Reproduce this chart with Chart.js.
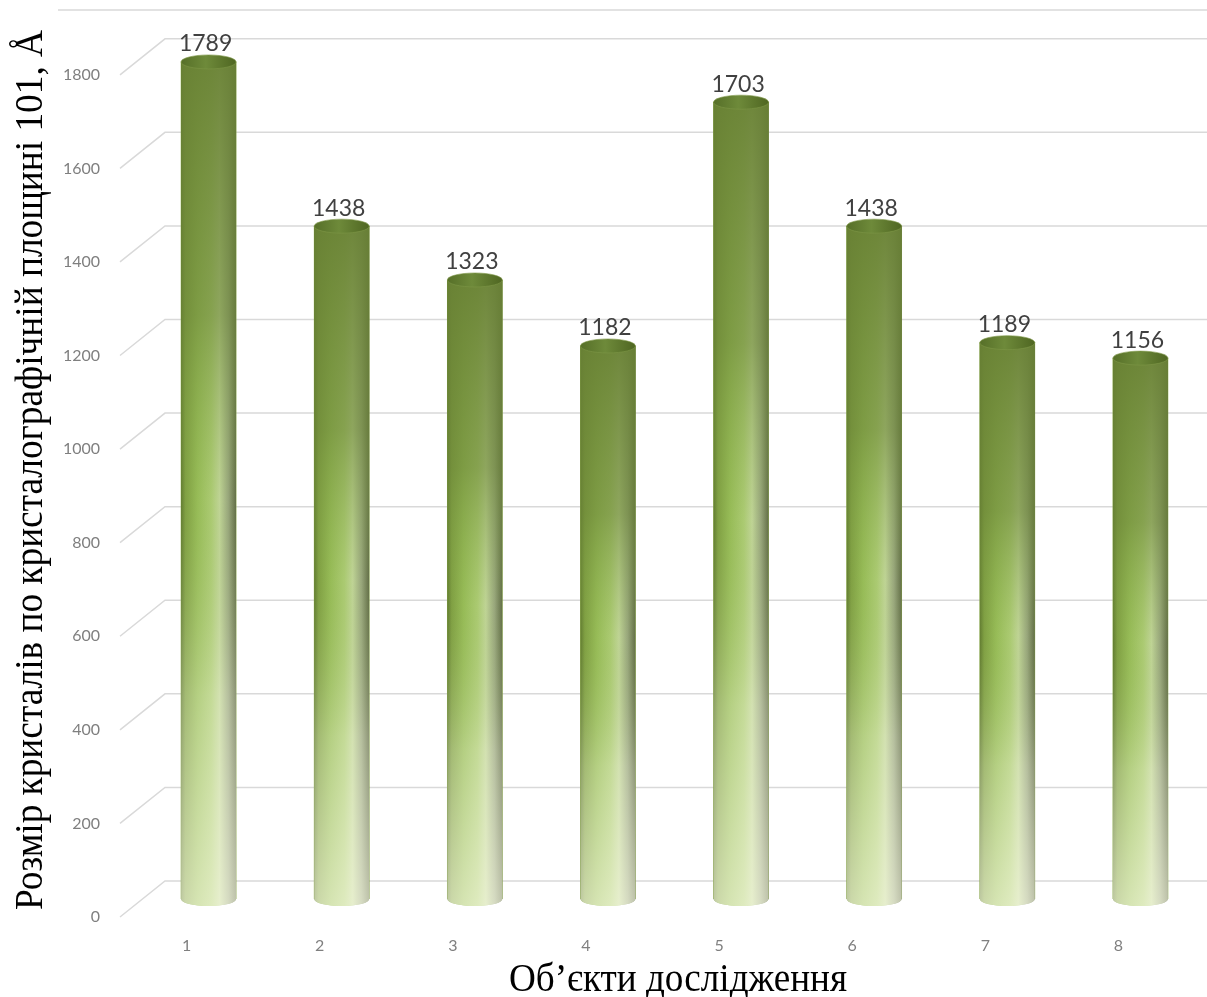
<!DOCTYPE html>
<html>
<head>
<meta charset="utf-8">
<script src="https://cdn.jsdelivr.net/npm/chart.js@4.4.0/dist/chart.umd.min.js"></script>
<style>
  html, body { margin: 0; padding: 0; background: #fff; }
  #wrap { width: 1207px; height: 997px; position: relative; }
</style>
</head>
<body>
<div id="wrap"><canvas id="crystalChart"></canvas></div>
<script>
// data
const categories = ['1', '2', '3', '4', '5', '6', '7', '8']
const crystalSize = [1789, 1438, 1323, 1182, 1703, 1438, 1189, 1156]
const yTicks = [0, 200, 400, 600, 800, 1000, 1200, 1400, 1600, 1800]
const yTitle = 'Розмір кристалів по кристалографічній площині 101, Å'
const xTitle = 'Об’єкти дослідження'

// 3D-ish gridlines: short diagonal "floor" segment + back-wall line
const gridPlugin = {
  id: 'grid3d',
  beforeDatasetsDraw(chart) {
    const { ctx, scales: { y } } = chart
    ctx.save()
    ctx.strokeStyle = '#d9d9d9'
    ctx.lineWidth = 1.5
    ctx.beginPath()
    ctx.moveTo(58, 10)
    ctx.lineTo(chart.width, 10)
    ctx.stroke()
    yTicks.forEach(v => {
      const p = y.getPixelForValue(v)
      ctx.beginPath()
      ctx.moveTo(120, p + 18)
      ctx.lineTo(165, p - 18)
      ctx.lineTo(chart.width, p - 18)
      ctx.stroke()
    })
    ctx.restore()
  }
}

// repaint each bar as a shaded cylinder
const cylinderPlugin = {
  id: 'cylinders',
  afterDatasetsDraw(chart) {
    const { ctx } = chart
    const meta = chart.getDatasetMeta(0)
    ctx.save()
    meta.data.forEach((bar, i) => {
      const rx = bar.width / 2, ry = 7
      const left = bar.x - rx, right = bar.x + rx
      const top = bar.y, base = bar.base

      const body = new Path2D()
      body.moveTo(left, top)
      body.lineTo(left, base)
      body.ellipse(bar.x, base, rx, ry, 0, Math.PI, 0, true)
      body.lineTo(right, top)
      body.closePath()

      const hg = ctx.createLinearGradient(left, 0, right, 0)
      hg.addColorStop(0, '#607a30')
      hg.addColorStop(0.08, '#80a043')
      hg.addColorStop(0.3, '#98bd58')
      hg.addColorStop(0.55, '#adcc74')
      hg.addColorStop(0.7, '#c2d699')
      hg.addColorStop(0.86, '#99a67e')
      hg.addColorStop(1, '#616c47')
      ctx.fillStyle = hg
      ctx.fill(body)

      const vg = ctx.createLinearGradient(0, top, 0, base + ry)
      vg.addColorStop(0, 'rgba(104,128,52,0.92)')
      vg.addColorStop(0.3, 'rgba(108,134,55,0.6)')
      vg.addColorStop(0.52, 'rgba(130,165,70,0.05)')
      vg.addColorStop(0.75, 'rgba(255,255,240,0.28)')
      vg.addColorStop(1, 'rgba(255,255,240,0.6)')
      ctx.fillStyle = vg
      ctx.fill(body)

      const tg = ctx.createLinearGradient(left, 0, right, 0)
      tg.addColorStop(0, '#566f28')
      tg.addColorStop(0.45, '#6e8a3a')
      tg.addColorStop(1, '#4f6622')
      ctx.beginPath()
      ctx.ellipse(bar.x, top, rx, ry, 0, 0, Math.PI * 2)
      ctx.fillStyle = tg
      ctx.fill()
      ctx.strokeStyle = 'rgba(125,150,70,0.6)'
      ctx.lineWidth = 1
      ctx.stroke()

      ctx.fillStyle = '#404040'
      ctx.font = '23px Lato'
      ctx.textAlign = 'center'
      ctx.textBaseline = 'middle'
      ctx.fillText(String(crystalSize[i]), bar.x - 3, top - 18)
    })
    ctx.restore()
  }
}

// axis titles, squeezed along the reading direction like the original
const titlesPlugin = {
  id: 'axisTitles',
  afterDraw(chart) {
    const { ctx } = chart
    ctx.save()
    ctx.fillStyle = '#000'
    ctx.font = '40px "Liberation Serif"'
    ctx.textAlign = 'center'
    ctx.textBaseline = 'middle'

    let w = ctx.measureText(yTitle).width
    ctx.save()
    ctx.translate(31, 470)
    ctx.rotate(-Math.PI / 2)
    ctx.scale(880 / w, 1)
    ctx.fillText(yTitle, 0, 0)
    ctx.restore()

    w = ctx.measureText(xTitle).width
    ctx.save()
    ctx.translate(678, 980)
    ctx.scale(338 / w, 1)
    ctx.fillText(xTitle, 0, 0)
    ctx.restore()
    ctx.restore()
  }
}

const ctx = document.getElementById('crystalChart').getContext('2d')
window._crystalChart = new Chart(ctx, {
  type: 'bar',
  data: {
    labels: categories,
    datasets: [{ data: crystalSize, backgroundColor: '#8fb04a', barThickness: 55 }]
  },
  options: {
    responsive: true,
    maintainAspectRatio: false,
    animation: false,
    layout: { padding: { top: 10, right: 0, left: 0, bottom: 0 } },
    plugins: { legend: { display: false }, tooltip: { enabled: false } },
    scales: {
      x: {
        grid: { display: false, drawTicks: false },
        border: { display: false },
        ticks: { color: '#7f7f7f', font: { family: 'Lato', size: 16 }, padding: 37, labelOffset: -22 },
        afterFit: (scale) => { scale.height = 98 }
      },
      y: {
        min: 0,
        max: 1900,
        grid: { display: false, drawTicks: false },
        border: { display: false },
        afterBuildTicks: (scale) => { scale.ticks = yTicks.map(v => ({ value: v })) },
        ticks: {
          color: '#7f7f7f', font: { family: 'Lato', size: 16 }, padding: 42, labelOffset: 18,
          callback: (v) => String(v)
        },
        afterFit: (scale) => { scale.width = 142; scale.paddingTop = 0; scale.paddingBottom = 0 }
      }
    }
  },
  plugins: [gridPlugin, cylinderPlugin, titlesPlugin]
})
</script>
</body>
</html>
